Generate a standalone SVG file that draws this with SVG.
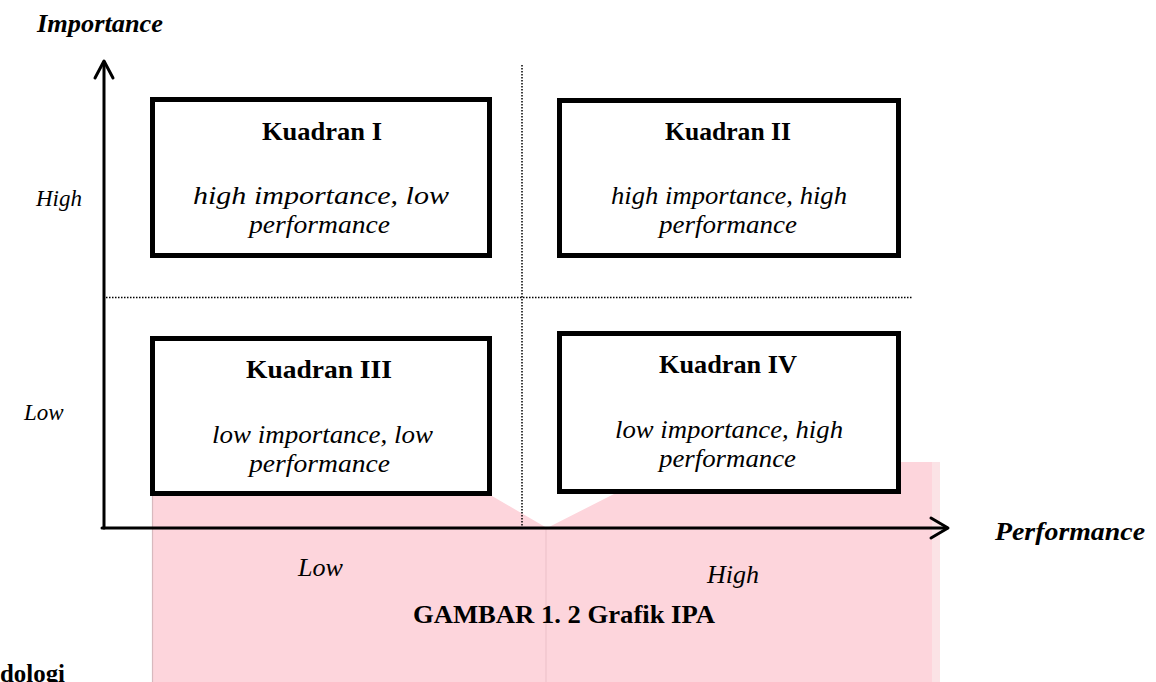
<svg xmlns="http://www.w3.org/2000/svg" width="1156" height="682" viewBox="0 0 1156 682">
  <style>
    .t { font-family: "Liberation Serif", "Times New Roman", serif; fill: #000; }
    .b { font-weight: bold; }
    .i { font-style: italic; }
    .box { fill: #fff; stroke: #000; stroke-width: 5; }
    .axis { fill: none; stroke: #000; stroke-width: 3; stroke-linecap: round; stroke-linejoin: round; }
    .dot { fill: none; stroke: #000; stroke-width: 1.5; stroke-dasharray: 1.5 1.5; }
  </style>

  <rect width="1156" height="682" fill="#fff"/>

  <!-- pink backdrop behind the lower part of the chart -->
  <g id="backdrop">
    <polygon points="152,496 492,496 547,528 677,462 938,462 938,682 152,682" fill="#fdd5dc"/>
    <line x1="152.5" y1="496" x2="152.5" y2="682" stroke="#d8b9be" stroke-width="1.2"/>
    <line x1="546" y1="528" x2="546" y2="682" stroke="#efc4cb" stroke-width="1.2"/>
    <rect x="932" y="462" width="8" height="220" fill="#fbe3e6"/>
  </g>

  <!-- quadrant dividers -->
  <g id="dividers">
    <line class="dot" x1="522" y1="65" x2="522" y2="527"/>
    <line class="dot" x1="106" y1="297.5" x2="912" y2="297.5"/>
  </g>

  <g id="kuadran-1">
    <rect class="box" x="152.5" y="99.5" width="337" height="156"/>
    <text class="t b" x="262" y="140" font-size="25" textLength="120" lengthAdjust="spacingAndGlyphs">Kuadran I</text>
    <text class="t i" x="193" y="204" font-size="25" textLength="256" lengthAdjust="spacingAndGlyphs">high importance, low</text>
    <text class="t i" x="249" y="233" font-size="25" textLength="141" lengthAdjust="spacingAndGlyphs">performance</text>
  </g>

  <g id="kuadran-2">
    <rect class="box" x="559.5" y="100.5" width="339" height="155"/>
    <text class="t b" x="665" y="140" font-size="25" textLength="126" lengthAdjust="spacingAndGlyphs">Kuadran II</text>
    <text class="t i" x="611" y="204" font-size="25" textLength="236" lengthAdjust="spacingAndGlyphs">high importance, high</text>
    <text class="t i" x="659" y="233" font-size="25" textLength="138" lengthAdjust="spacingAndGlyphs">performance</text>
  </g>

  <g id="kuadran-3">
    <rect class="box" x="152.5" y="338.5" width="337" height="155"/>
    <text class="t b" x="246" y="378" font-size="25" textLength="146" lengthAdjust="spacingAndGlyphs">Kuadran III</text>
    <text class="t i" x="212" y="443" font-size="25" textLength="221" lengthAdjust="spacingAndGlyphs">low importance, low</text>
    <text class="t i" x="249" y="472" font-size="25" textLength="141" lengthAdjust="spacingAndGlyphs">performance</text>
  </g>

  <g id="kuadran-4">
    <rect class="box" x="559.5" y="333.5" width="339" height="158"/>
    <text class="t b" x="659" y="373" font-size="25" textLength="138" lengthAdjust="spacingAndGlyphs">Kuadran IV</text>
    <text class="t i" x="615" y="438" font-size="25" textLength="228" lengthAdjust="spacingAndGlyphs">low importance, high</text>
    <text class="t i" x="659" y="467" font-size="25" textLength="137" lengthAdjust="spacingAndGlyphs">performance</text>
  </g>

  <!-- axes -->
  <g id="connectors">
    <line class="axis" x1="104" y1="62" x2="104" y2="528"/>
    <polyline class="axis" points="95,78 104,61 113,78"/>
    <line class="axis" x1="102" y1="528" x2="947" y2="528"/>
    <polyline class="axis" points="931,518 948,528 931,538"/>
  </g>

  <g id="labels">
    <text class="t b i" x="37" y="32" font-size="25" textLength="126" lengthAdjust="spacingAndGlyphs">Importance</text>
    <text class="t b i" x="995" y="540" font-size="25" textLength="150" lengthAdjust="spacingAndGlyphs">Performance</text>
    <text class="t i" x="36" y="206" font-size="23">High</text>
    <text class="t i" x="24" y="420" font-size="23">Low</text>
    <text class="t i" x="298" y="576" font-size="25" textLength="45" lengthAdjust="spacingAndGlyphs">Low</text>
    <text class="t i" x="707" y="583" font-size="25" textLength="52" lengthAdjust="spacingAndGlyphs">High</text>
    <text class="t b" x="413" y="623" font-size="25" textLength="302" lengthAdjust="spacingAndGlyphs">GAMBAR 1. 2 Grafik IPA</text>
    <text class="t b" x="0" y="682" font-size="25" textLength="65" lengthAdjust="spacingAndGlyphs">dologi</text>
  </g>
</svg>
